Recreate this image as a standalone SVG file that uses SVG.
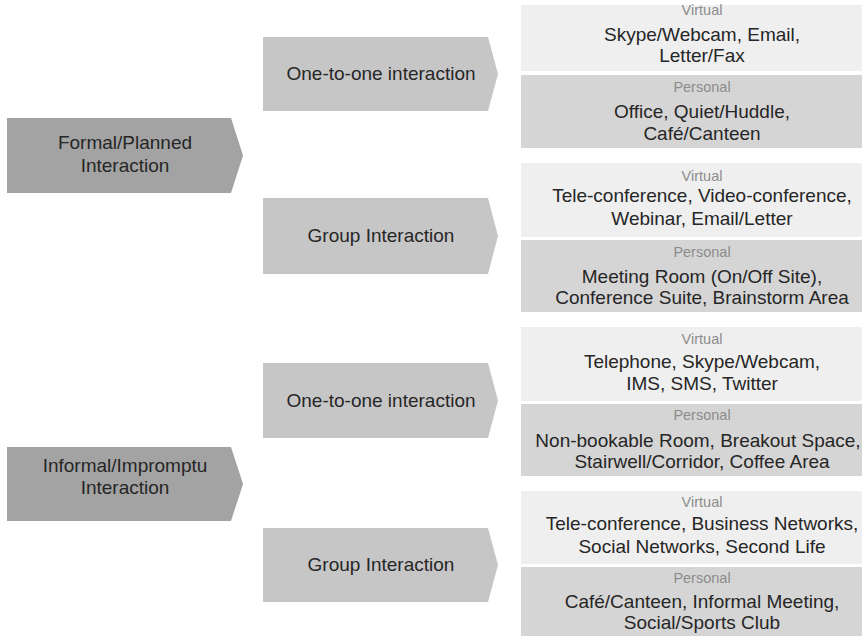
<svg xmlns="http://www.w3.org/2000/svg" width="862" height="636" viewBox="0 0 862 636">
<style>
text{font-family:"Liberation Sans",Arial,sans-serif;text-anchor:middle}
.t{font-size:19px;fill:#262626}
.lab{font-size:14.5px;fill:#8c8c8c}
.a1{fill:#a3a3a3}
.a2{fill:#c6c6c6}
.v{fill:#efefef}
.p{fill:#d5d5d5}
</style>
<rect width="862" height="636" fill="#ffffff"/>
<g id="formal">
<polygon class="a1" points="7,118 231,118 243,155.5 231,193 7,193"/>
<text class="t" x="125" y="149">Formal/Planned</text>
<text class="t" x="125" y="172">Interaction</text>
</g>
<g id="informal">
<polygon class="a1" points="7,447 231,447 243,484 231,521 7,521"/>
<text class="t" x="125" y="472">Informal/Impromptu</text>
<text class="t" x="125" y="494">Interaction</text>
</g>
<g id="formal-one">
<polygon class="a2" points="263,37 488,37 498,74 488,111 263,111"/>
<text class="t" x="381" y="80">One-to-one interaction</text>
</g>
<g id="formal-group">
<polygon class="a2" points="263,198 488,198 498,236 488,274 263,274"/>
<text class="t" x="381" y="242">Group Interaction</text>
</g>
<g id="informal-one">
<polygon class="a2" points="263,363 488,363 498,400.5 488,438 263,438"/>
<text class="t" x="381" y="407">One-to-one interaction</text>
</g>
<g id="informal-group">
<polygon class="a2" points="263,528 488,528 498,565 488,602 263,602"/>
<text class="t" x="381" y="571">Group Interaction</text>
</g>
<g id="box1">
<rect class="v" x="521" y="5" width="341" height="66"/>
<text class="lab" x="702" y="15">Virtual</text>
<text class="t" x="702" y="41">Skype/Webcam, Email,</text>
<text class="t" x="702" y="62">Letter/Fax</text>
<rect class="p" x="521" y="75" width="341" height="73"/>
<text class="lab" x="702" y="92">Personal</text>
<text class="t" x="702" y="118">Office, Quiet/Huddle,</text>
<text class="t" x="702" y="140">Café/Canteen</text>
</g>
<g id="box2">
<rect class="v" x="521" y="163" width="341" height="74"/>
<text class="lab" x="702" y="181">Virtual</text>
<text class="t" x="702" y="202">Tele-conference, Video-conference,</text>
<text class="t" x="702" y="225">Webinar, Email/Letter</text>
<rect class="p" x="521" y="240" width="341" height="72"/>
<text class="lab" x="702" y="257">Personal</text>
<text class="t" x="702" y="283">Meeting Room (On/Off Site),</text>
<text class="t" x="702" y="304">Conference Suite, Brainstorm Area</text>
</g>
<g id="box3">
<rect class="v" x="521" y="327" width="341" height="74"/>
<text class="lab" x="702" y="344">Virtual</text>
<text class="t" x="702" y="368">Telephone, Skype/Webcam,</text>
<text class="t" x="702" y="390">IMS, SMS, Twitter</text>
<rect class="p" x="521" y="404" width="341" height="72"/>
<text class="lab" x="702" y="420">Personal</text>
<text class="t" x="698" y="447">Non-bookable Room, Breakout Space,</text>
<text class="t" x="702" y="468">Stairwell/Corridor, Coffee Area</text>
</g>
<g id="box4">
<rect class="v" x="521" y="491" width="341" height="73"/>
<text class="lab" x="702" y="507">Virtual</text>
<text class="t" x="702" y="530">Tele-conference, Business Networks,</text>
<text class="t" x="702" y="553">Social Networks, Second Life</text>
<rect class="p" x="521" y="567" width="341" height="69"/>
<text class="lab" x="702" y="583">Personal</text>
<text class="t" x="702" y="608">Café/Canteen, Informal Meeting,</text>
<text class="t" x="702" y="629">Social/Sports Club</text>
</g>
<g id="connectors"/>
</svg>
